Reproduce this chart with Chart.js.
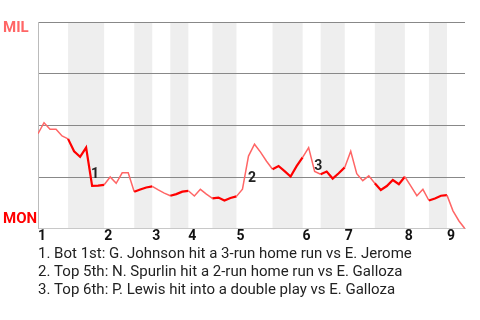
<!DOCTYPE html>
<html><head><meta charset="utf-8">
<script src="https://cdn.jsdelivr.net/npm/chart.js@4.4.1/dist/chart.umd.min.js"></script>
<style>html,body{margin:0;padding:0;background:#fff}#wrap{width:480px;height:320px;position:relative}</style>
</head><body><div id="wrap"><canvas id="c" width="480" height="320"></canvas></div>
<script>
const awayTeam = 'MIL';
const homeTeam = 'MON';
// plate-appearance index where each half inning begins (last = game end)
const halfInningStarts = [0,5,11,16,19,22,25,29,33,39,44,47,51,56,61,65,68,71];
const inningTicks = [0,11,19,25,33,44,51,61,68];
const inningLabels = ['1','2','3','4','5','6','7','8','9'];
// MIL win probability after each plate appearance
const winProb = [
  0.460,0.513,0.482,0.482,0.449,0.435,0.375,0.348,0.393,0.208,
  0.209,0.213,0.251,0.220,0.271,0.271,0.179,0.190,0.200,0.205,
  0.188,0.173,0.160,0.168,0.180,0.184,0.159,0.191,0.168,0.147,
  0.151,0.137,0.149,0.157,0.192,0.352,0.409,0.371,0.327,0.288,
  0.304,0.279,0.253,0.303,0.346,0.393,0.277,0.264,0.277,0.243,
  0.269,0.297,0.375,0.267,0.233,0.256,0.220,0.188,0.207,0.236,
  0.216,0.252,0.207,0.160,0.191,0.137,0.147,0.160,0.163,0.087,
  0.038,0.000
];
const eventNotes = [
  'Bot 1st: G. Johnson hit a 3-run home run vs E. Jerome',
  'Top 5th: N. Spurlin hit a 2-run home run vs E. Galloza',
  'Top 6th: P. Lewis hit into a double play vs E. Galloza'
];
const eventX = [9.5, 35.6, 46.6];
const eventY = [0.262, 0.242, 0.300];

function isBottomHalf(x){
  for (let k=0;k<halfInningStarts.length-1;k++){
    if (x>=halfInningStarts[k] && x<halfInningStarts[k+1]) return k%2===1;
  }
  return false;
}

const bandPlugin = {
  id:'bands',
  beforeDraw(chart){
    const {ctx, chartArea:a, scales:{x}} = chart;
    ctx.save(); ctx.fillStyle='#eeeeee';
    for (let k=1;k<halfInningStarts.length-1;k+=2){
      const x0=x.getPixelForValue(halfInningStarts[k]), x1=x.getPixelForValue(halfInningStarts[k+1]);
      ctx.fillRect(x0,a.top,x1-x0,a.bottom-a.top);
    }
    ctx.restore();
  }
};
const labelPlugin = {
  id:'labels',
  afterDatasetsDraw(chart){
    const {ctx, scales:{x,y}} = chart;
    ctx.save();
    ctx.font='bold 14px Roboto'; ctx.fillStyle='#222'; ctx.textAlign='center'; ctx.textBaseline='middle';
    eventNotes.forEach((n,i)=>ctx.fillText(String(i+1), x.getPixelForValue(eventX[i]), y.getPixelForValue(eventY[i])));
    ctx.font='bold 15px Roboto'; ctx.textAlign='left';
    ctx.fillStyle='#ff6666'; ctx.fillText(awayTeam, 3, y.getPixelForValue(1)+6.5);
    ctx.fillStyle='#ff0000'; ctx.fillText(homeTeam, 3, y.getPixelForValue(0)-9.5);
    ctx.restore();
  }
};

new Chart(document.getElementById('c'), {
  type:'line',
  data:{datasets:[{
    data: winProb.map((v,i)=>({x:i,y:v})),
    pointRadius:0, tension:0, fill:false,
    borderColor:'#ff6666', borderWidth:1.5,
    segment:{
      borderColor: c => isBottomHalf(c.p0.parsed.x) ? '#ff0000' : '#ff6666',
      borderWidth: c => isBottomHalf(c.p0.parsed.x) ? 2.2 : 1.5
    }
  }]},
  options:{
    responsive:false, animation:false, devicePixelRatio:1,
    layout:{padding:{left:38,right:15,top:22,bottom:20.25}},
    plugins:{
      legend:{display:false}, tooltip:{enabled:false},
      title:{display:true, position:'bottom', align:'start',
        text: eventNotes.map((n,i)=>(i+1)+'. '+n),
        color:'#222', padding:0,
        font:{family:'Roboto', size:15, weight:'normal', lineHeight:1.22}}
    },
    scales:{
      x:{type:'linear', min:0, max:halfInningStarts[halfInningStarts.length-1],
        afterBuildTicks: s => { s.ticks = inningTicks.map(v=>({value:v})); },
        grid:{display:false, drawTicks:false},
        border:{display:true, color:'#c8c8c8', width:1},
        ticks:{autoSkip:false, maxRotation:0, align:'start', padding:1, color:'#111',
          font:{family:'Roboto', size:14, weight:'bold', lineHeight:1},
          callback: v => { const k = inningTicks.indexOf(v); return k>=0 ? inningLabels[k] : ''; }}
      },
      y:{min:0, max:1,
        ticks:{display:false, stepSize:0.25},
        grid:{drawTicks:false, color: c => c.tick && c.tick.value===0 ? 'rgba(0,0,0,0)' : '#888'},
        border:{display:true, color:'#bbbbbb', width:1}
      }
    }
  },
  plugins:[bandPlugin, labelPlugin]
});
</script></body></html>
